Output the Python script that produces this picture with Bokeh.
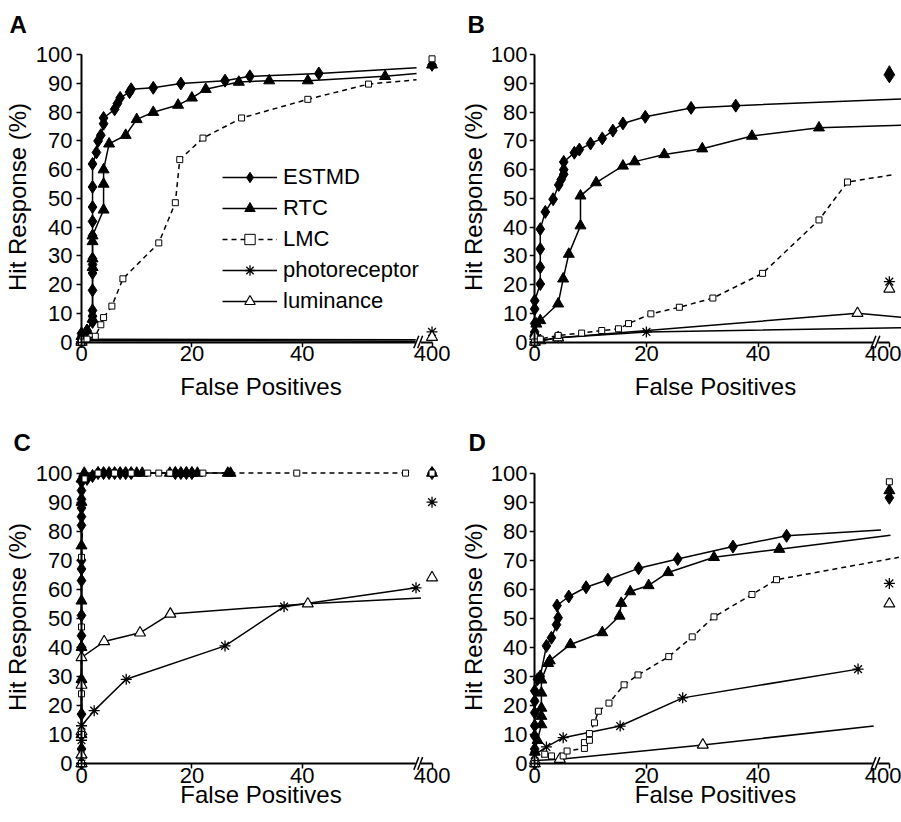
from bokeh.plotting import figure
from bokeh.layouts import gridplot
from bokeh.models import Range1d, FixedTicker, Legend, LegendItem, LinearAxis, Title
from bokeh.embed import file_html
from bokeh.resources import INLINE

# ---------------- data ----------------
SERIES = ["ESTMD", "RTC", "LMC", "photoreceptor", "luminance"]
X_TICKS = [0, 20, 40]
X_TICK_400_LABEL = "400"
Y_TICKS = [0, 10, 20, 30, 40, 50, 60, 70, 80, 90, 100]

# Panel A
A_ESTMD_X = [0, 0, 1, 2, 2, 2, 2, 2, 2, 2, 2, 2, 2, 2, 2, 2.7, 3, 3.5, 4, 4, 6, 6.5, 7, 8.7, 9, 13, 18, 26, 30.5, 43]
A_ESTMD_Y = [0, 3, 4, 7, 9, 11, 18, 24, 27, 29, 37, 42, 47, 54, 62, 66, 70, 72, 76, 78, 81, 83, 85, 87, 88, 88.5, 90, 91, 92.5, 93.5]
A_ESTMD_TAIL = [60.7, 95.5]
A_ESTMD_400 = 96.5
A_RTC_X = [0, 0, 1, 2, 2, 2, 2, 2, 4, 4, 4, 5, 8, 10, 13, 17.5, 20, 22.5, 28.5, 34, 41, 55]
A_RTC_Y = [0, 2, 4, 8, 26, 29, 35, 37, 46, 55, 60, 69, 72, 77.5, 80, 82.5, 85, 88, 90.5, 91, 91, 92.5]
A_RTC_TAIL = [60.7, 93.5]
A_RTC_400 = 96.5
A_LMC_X = [0, 1, 2.5, 3.5, 4, 5.5, 7.5, 14, 17, 17.8, 22, 29, 41, 52]
A_LMC_Y = [0, 1, 2, 6, 8.5, 12.5, 22, 34.5, 48.5, 63.5, 71, 78, 84.5, 89.8]
A_LMC_TAIL = [60.7, 91.3]
A_LMC_400 = 98.6
A_PHOTO_X = [0, 0]
A_PHOTO_Y = [0, 1]
A_PHOTO_TAIL = [60.7, 0.8]
A_PHOTO_400 = 3.5
A_LUM_X = [0, 0]
A_LUM_Y = [0, 0.5]
A_LUM_TAIL = [60.7, 0.3]
A_LUM_400 = 1.7

# Panel B
B_ESTMD_X = [0, 0, 0, 0, 0, 1, 1, 1, 1, 1.9, 3.3, 4.3, 4.75, 5.2, 5.2, 5.2, 7.1, 8, 10, 12.1, 14, 15.8, 19.8, 28, 36]
B_ESTMD_Y = [0, 3.5, 6.4, 11.5, 14.4, 20.2, 26, 32.4, 39.3, 45.3, 49.7, 54.7, 56.6, 58.4, 60, 62.7, 65.9, 67, 69.1, 70.9, 73.6, 76.1, 78.4, 81.5, 82.3]
B_ESTMD_TAIL = [66, 84.6]
B_ESTMD_400 = 92.5
B_RTC_X = [0, 0, 0.3, 1, 4.2, 5.1, 6.1, 8.2, 8.2, 11, 15.8, 17.9, 23.2, 30, 38.9, 50.9]
B_RTC_Y = [0, 3, 6.3, 7.5, 13.3, 22, 30.6, 40.5, 50.9, 55.5, 61.3, 62.8, 65.3, 67.3, 71.7, 74.6]
B_RTC_TAIL = [66, 75.5]
B_RTC_400 = 94
B_LMC_X = [0, 1, 4.2, 8.4, 12, 15, 16.8, 20.8, 25.9, 31.9, 40.8, 50.9, 56]
B_LMC_Y = [0, 1, 2.3, 3.1, 4, 4.6, 6.4, 9.8, 12.1, 15.3, 23.9, 42.5, 55.7]
B_LMC_TAIL = [64.3, 58.3]
B_LMC_400 = None
B_PHOTO_X = [0, 4.2, 20]
B_PHOTO_Y = [0, 1.5, 3.5]
B_PHOTO_TAIL = [66, 5.0]
B_PHOTO_400 = 21
B_LUM_X = [0, 0, 1, 4.2, 57.8]
B_LUM_Y = [0, 2, 0.5, 1.5, 10]
B_LUM_TAIL = [66, 8.5]
B_LUM_400 = 18.5

# Panel C
C_ESTMD_X = [0, 0, 0, 0, 0, 0, 0, 0, 0, 0, 0, 0, 0, 0, 0, 0, 0, 0.5, 1, 2, 3, 4, 5, 6, 7, 8, 9, 17, 18, 19, 20]
C_ESTMD_Y = [0, 5, 10, 17, 28, 40, 44, 51, 63, 67, 70, 82, 85, 88, 91, 94, 97, 99, 98, 99, 100, 100, 100, 100, 100, 100, 100, 100, 100, 100, 100]
C_ESTMD_TAIL = None
C_ESTMD_400 = 100
C_RTC_X = [0, 0, 0, 0, 0, 0, 0, 0, 0, 0.5, 3, 10, 11, 16, 17, 19, 20, 21, 26.5, 27]
C_RTC_Y = [0, 3, 10, 29, 40, 56, 75, 90, 98, 100, 100, 100, 100, 100, 100, 100, 100, 100, 100, 100]
C_RTC_TAIL = None
C_RTC_400 = 100
C_LMC_X = [0, 0, 0, 0, 0, 0.5, 3, 6, 9, 12, 14, 16, 22, 39, 58.7]
C_LMC_Y = [0, 10, 24, 47, 71, 98, 100, 100, 100, 100, 100, 100, 100, 100, 100]
C_LMC_TAIL = None
C_LMC_400 = 100
C_PHOTO_X = [0, 0, 0, 2.3, 8.1, 26, 36.7, 60.6]
C_PHOTO_Y = [0, 8, 13, 18.2, 29, 40.5, 54, 60.5]
C_PHOTO_TAIL = None
C_PHOTO_400 = 90
C_LUM_X = [0, 0, 0, 0, 0, 4.1, 10.6, 16.1, 41]
C_LUM_Y = [0, 3, 11, 27, 36.5, 42, 45, 51.5, 55]
C_LUM_TAIL = [61.5, 57]
C_LUM_400 = 64

# Panel D
D_ESTMD_X = [0, 0, 0, 0, 0, 0, 0, 0.5, 1, 2.1, 3, 3.9, 4.2, 4, 6.1, 9.2, 13.1, 18.6, 25.6, 35.5, 45.1]
D_ESTMD_Y = [0, 5, 9.5, 13, 17.5, 21.5, 25, 29, 30, 40.5, 43.3, 47.8, 50.2, 54.4, 57.5, 60.7, 63.3, 67.2, 70.4, 74.7, 78.4]
D_ESTMD_TAIL = [62, 80.4]
D_ESTMD_400 = 91.5
D_RTC_X = [0, 0, 0.5, 1.2, 1.2, 1.2, 1.2, 1.2, 2.4, 2.7, 6.4, 12.1, 15.2, 15.5, 17.1, 20.4, 23.9, 32.1, 43.8]
D_RTC_Y = [0, 4, 8, 13.4, 16.3, 19.1, 24.3, 28.8, 34.5, 35.4, 41, 45.1, 50.8, 55.2, 59.2, 61.3, 65.8, 71, 73.8]
D_RTC_TAIL = [63.7, 78.6]
D_RTC_400 = 94
D_LMC_X = [0, 1.8, 3, 5.1, 5.8, 8.9, 8.9, 9.8, 9.8, 10.7, 11.4, 13.3, 16, 18.5, 24, 28.2, 32.1, 38.9, 43.3]
D_LMC_Y = [0, 3.2, 2.6, 2.6, 4.3, 5.2, 7.2, 8, 10.3, 14, 18, 20.8, 27.1, 30.5, 36.8, 43.6, 50.5, 58.2, 63.3]
D_LMC_TAIL = [65.2, 71]
D_LMC_400 = 97
D_PHOTO_X = [0, 0, 2.1, 5.1, 15.3, 26.5, 57.9]
D_PHOTO_Y = [0, 3, 5.7, 8.9, 12.9, 22.6, 32.5]
D_PHOTO_TAIL = None
D_PHOTO_400 = 62
D_LUM_X = [0, 0, 4.5, 30.1]
D_LUM_Y = [0, 1, 1.5, 6.4]
D_LUM_TAIL = [60.7, 12.9]
D_LUM_400 = 55

# -------------- layout / style constants --------------
X400 = 63.5      # display position of the "400" tick after the axis break
BREAK_X = 61.0   # display position of the axis break
FONT = "Liberation Sans"

STYLE = {
    "ESTMD": dict(marker="diamond", size=13, fill_color="black", line_color="black", line_width=1),
    "RTC": dict(marker="triangle", size=11, fill_color="black", line_color="black", line_width=1),
    "LMC": dict(marker="square", size=6, fill_color="white", line_color="black", line_width=1),
    "photoreceptor": dict(marker="asterisk", size=11, fill_color="black", line_color="black", line_width=1.3),
    "luminance": dict(marker="triangle", size=11, fill_color="white", line_color="black", line_width=1.2),
}
DASH = {"LMC": "5 4"}

# geometry: fig w/h, borders (l, r, t, b), pixel of x=0, px per x unit,
# pixel of y=0, px per y unit, title offset, label standoffs
GEOM = {
    "A": dict(w=455, h=418, b=(72, 6, 46, 71), x0=81.0, kx=5.52, y0=341.5, ky=2.872,
              t_off=-63, ml_so=0, al_so=2, xml_so=-2, xal_so=9),
    "B": dict(w=446, h=418, b=(74, 0, 46, 71), x0=79.2, kx=5.585, y0=341.5, ky=2.872,
              t_off=-62, ml_so=2, al_so=1, xml_so=-2, xal_so=9),
    "C": dict(w=455, h=404, b=(72, 6, 46, 53), x0=81.0, kx=5.52, y0=345.0, ky=2.904,
              t_off=-59, ml_so=0, al_so=2, xml_so=-2, xal_so=-5),
    "D": dict(w=446, h=404, b=(74, 0, 46, 53), x0=79.2, kx=5.585, y0=345.0, ky=2.904,
              t_off=-61, ml_so=2, al_so=1, xml_so=-2, xal_so=-5),
}


def panel_data(prefix):
    g = globals()
    keys = {"ESTMD": "ESTMD", "RTC": "RTC", "LMC": "LMC", "photoreceptor": "PHOTO", "luminance": "LUM"}
    out = {}
    for s in SERIES:
        k = f"{prefix}_{keys[s]}"
        out[s] = (g[k + "_X"], g[k + "_Y"], g[k + "_TAIL"], g[k + "_400"])
    return out


def style_text_axis(ax):
    ax.major_label_text_font = FONT
    ax.major_label_text_font_size = "22px"
    ax.major_label_text_color = "black"
    ax.axis_label_text_font = FONT
    ax.axis_label_text_font_size = "24px"
    ax.axis_label_text_font_style = "normal"
    ax.axis_label_text_color = "black"
    ax.axis_line_color = None
    ax.major_tick_line_color = None
    ax.minor_tick_line_color = None
    ax.major_tick_in = 0
    ax.major_tick_out = 0
    ax.minor_tick_in = 0
    ax.minor_tick_out = 0


def make_panel(letter, legend=False):
    G = GEOM[letter]
    l, r, t, b = G["b"]
    x_start = (l - G["x0"]) / G["kx"]
    x_end = (G["w"] - r - G["x0"]) / G["kx"]
    y_end = (G["y0"] - t) / G["ky"]
    y_start = (G["y0"] - (G["h"] - b)) / G["ky"]
    p = figure(width=G["w"], height=G["h"], output_backend="svg", toolbar_location=None,
               x_range=Range1d(x_start, x_end), y_range=Range1d(y_start, y_end),
               min_border_left=l, min_border_right=r, min_border_top=t, min_border_bottom=b)
    p.outline_line_color = None
    p.grid.visible = False
    p.background_fill_color = "white"
    p.border_fill_color = "white"

    data = panel_data(letter)
    line_r = {}
    for s in SERIES:
        xs, ys, tail, _ = data[s]
        lx = list(xs) + ([tail[0]] if tail else [])
        ly = list(ys) + ([tail[1]] if tail else [])
        line_r[s] = p.line(lx, ly, line_color="black", line_width=1.5,
                           line_dash=DASH.get(s, "solid"))
    mark_r = {}
    for s in ["ESTMD", "RTC", "photoreceptor", "luminance", "LMC"]:
        xs, ys, tail, v400 = data[s]
        mx = list(xs) + ([X400] if v400 is not None else [])
        my = list(ys) + ([v400] if v400 is not None else [])
        mark_r[s] = p.scatter(mx, my, **STYLE[s])

    # axis lines and ticks drawn through the origin (labels hidden here)
    for ax in (p.xaxis[0], p.yaxis[0]):
        ax.fixed_location = 0
        ax.axis_line_width = 2
        ax.major_tick_line_width = 1.5
        ax.major_tick_in = 0
        ax.major_tick_out = 5
        ax.minor_tick_line_color = None
        ax.major_label_text_alpha = 0
        ax.major_label_text_font_size = "1px"
    p.xaxis[0].bounds = (0, X400)
    p.yaxis[0].bounds = (0, 100)
    p.xaxis[0].ticker = FixedTicker(ticks=X_TICKS + [X400])
    p.yaxis[0].ticker = FixedTicker(ticks=Y_TICKS)

    # text axes at the frame edges
    yl = LinearAxis(ticker=FixedTicker(ticks=Y_TICKS), axis_label="Hit Response (%)")
    style_text_axis(yl)
    yl.major_label_standoff = G["ml_so"]
    yl.axis_label_standoff = G["al_so"]
    p.add_layout(yl, "left")
    xl = LinearAxis(ticker=FixedTicker(ticks=X_TICKS + [X400]), axis_label="False Positives")
    style_text_axis(xl)
    xl.major_label_overrides = {X400: X_TICK_400_LABEL}
    xl.major_label_standoff = G["xml_so"]
    xl.axis_label_standoff = G["xal_so"]
    p.add_layout(xl, "below")

    # axis break "//"
    p.quad(left=[BREAK_X - 0.45], right=[BREAK_X + 0.5], bottom=[-1.2], top=[1.2],
           fill_color="white", line_color=None, level="overlay")
    p.segment(x0=[BREAK_X - 0.8, BREAK_X - 0.1], y0=[-2.2, -2.2],
              x1=[BREAK_X + 0.1, BREAK_X + 0.8], y1=[2.2, 2.2],
              line_color="black", line_width=1.5, level="overlay")

    p.add_layout(Title(text=letter, align="left", offset=G["t_off"], standoff=14,
                       text_font=FONT, text_font_size="24px", text_font_style="bold",
                       text_color="black", vertical_align="top"), "above")

    if legend:
        items = [LegendItem(label=s, renderers=[line_r[s], mark_r[s]]) for s in SERIES]
        lg = Legend(items=items, location=(150, 33), orientation="vertical",
                    border_line_color=None, background_fill_alpha=0,
                    glyph_width=55, glyph_height=26, spacing=5, label_standoff=6,
                    padding=0, margin=0, label_text_font=FONT,
                    label_text_font_size="22px", label_text_color="black")
        p.add_layout(lg)
    return p


pA = make_panel("A", legend=True)
pB = make_panel("B")
pC = make_panel("C")
pD = make_panel("D")

grid = gridplot([[pA, pB], [pC, pD]], toolbar_location=None)

with open("out.html", "w") as f:
    f.write(file_html(grid, INLINE))
